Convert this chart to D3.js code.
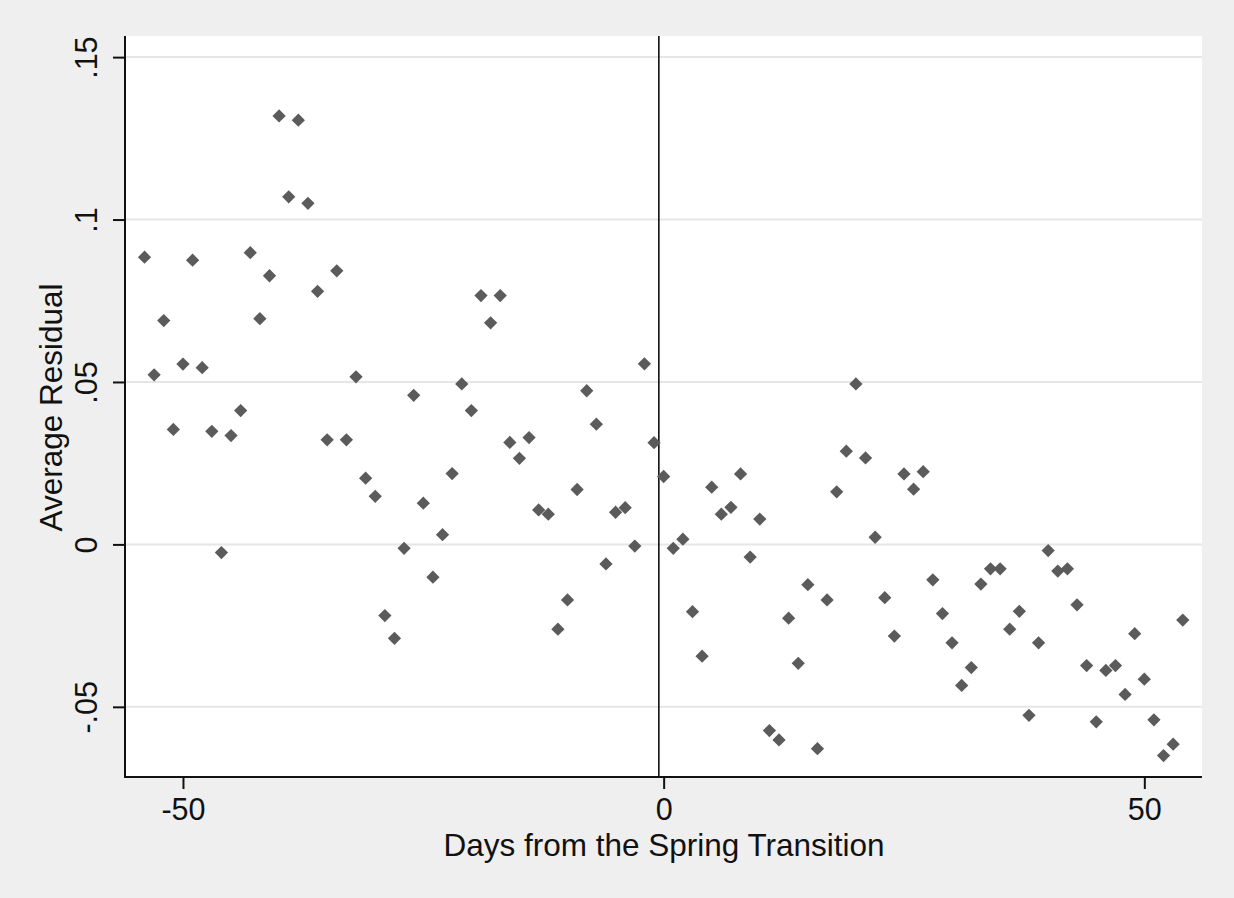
<!DOCTYPE html>
<html>
<head>
<meta charset="utf-8">
<script src="https://cdn.jsdelivr.net/npm/d3@7"></script>
<style>
  html, body { margin: 0; padding: 0; background: #efefef; }
  svg { display: block; }
  text { font-family: "Liberation Sans", Arial, sans-serif; fill: #111; }
</style>
</head>
<body>
<svg id="chart" width="1234" height="898"></svg>
<script>
const days = [-54,-53,-52,-51,-50,-49,-48,-47,-46,-45,-44,-43,-42,-41,-40,-39,-38,-37,-36,-35,
  -34,-33,-32,-31,-30,-29,-28,-27,-26,-25,-24,-23,-22,-21,-20,-19,-18,-17,-16,-15,
  -14,-13,-12,-11,-10,-9,-8,-7,-6,-5,-4,-3,-2,-1,0,1,2,3,4,5,
  6,7,8,9,10,11,12,13,14,15,16,17,18,19,20,21,22,23,24,25,
  26,27,28,29,30,31,32,33,34,35,36,37,38,39,40,41,42,43,44,45,
  46,47,48,49,50,51,52,53,54];
const residuals = [0.0884,0.0522,0.0689,0.0354,0.0555,0.0875,0.0544,0.0348,-0.0025,0.0335,
  0.0412,0.0898,0.0695,0.0827,0.1319,0.1070,0.1306,0.1050,0.0779,0.0322,
  0.0842,0.0322,0.0516,0.0204,0.0148,-0.0219,-0.0289,-0.0012,0.0459,0.0127,
  -0.0101,0.0030,0.0218,0.0494,0.0412,0.0766,0.0682,0.0766,0.0314,0.0265,
  0.0329,0.0106,0.0093,-0.0261,-0.0171,0.0169,0.0473,0.0370,-0.0060,0.0099,
  0.0113,-0.0005,0.0556,0.0313,0.0209,-0.0012,0.0016,-0.0207,-0.0344,0.0176,
  0.0093,0.0114,0.0217,-0.0039,0.0078,-0.0573,-0.0602,-0.0227,-0.0366,-0.0124,
  -0.0629,-0.0171,0.0162,0.0287,0.0494,0.0266,0.0022,-0.0164,-0.0282,0.0217,
  0.0170,0.0224,-0.0109,-0.0213,-0.0303,-0.0434,-0.0379,-0.0122,-0.0075,-0.0075,
  -0.0261,-0.0206,-0.0526,-0.0303,-0.0019,-0.0082,-0.0075,-0.0186,-0.0373,-0.0546,
  -0.0388,-0.0373,-0.0462,-0.0275,-0.0415,-0.0540,-0.0650,-0.0615,-0.0233];
const xTicks = [-50, 0, 50];
const xTickLabels = ["-50", "0", "50"];
const yTicks = [-0.05, 0, 0.05, 0.1, 0.15];
const yTickLabels = ["-.05", "0", ".05", ".1", ".15"];
const transitionLine = [-0.5];
const xTitle = "Days from the Spring Transition";
const yTitle = "Average Residual";

const svg = d3.select("#chart");
const pLeft = 125, pRight = 1202, pTop = 36, pBottom = 777;
const titleSize = "31.5px";
const tickSize = "30.5px";

const x = d3.scaleLinear().domain([-56.03, 56.0]).range([pLeft, pRight]);
const y = d3.scaleLinear().domain([-0.0716, 0.1565]).range([pBottom, pTop]);

svg.append("rect").attr("x", 0).attr("y", 0).attr("width", 1234).attr("height", 898).attr("fill", "#efefef");
svg.append("rect").attr("x", pLeft).attr("y", pTop).attr("width", pRight - pLeft).attr("height", pBottom - pTop).attr("fill", "#ffffff");

// gridlines
svg.append("g").selectAll("line").data(yTicks).join("line")
  .attr("x1", pLeft).attr("x2", pRight)
  .attr("y1", d => y(d)).attr("y2", d => y(d))
  .attr("stroke", "#e6e6e6").attr("stroke-width", 2);

// vertical line
svg.append("g").selectAll("line").data(transitionLine).join("line")
  .attr("x1", d => x(d)).attr("x2", d => x(d))
  .attr("y1", pTop).attr("y2", pBottom)
  .attr("stroke", "#111").attr("stroke-width", 1.6);

// points
const sym = d3.symbol().type(d3.symbolSquare).size(88);
svg.append("g").selectAll("path").data(days.map((d, i) => [d, residuals[i]])).join("path")
  .attr("d", sym)
  .attr("transform", d => `translate(${x(d[0])},${y(d[1])}) rotate(45)`)
  .attr("fill", "#5b5b5b");

// y axis
const yAxis = svg.append("g").attr("transform", `translate(${pLeft},0)`)
  .call(d3.axisLeft(y).tickValues(yTicks).tickSize(12).tickPadding(0)
    .tickFormat((d, i) => yTickLabels[i]));
yAxis.select(".domain").attr("stroke", "#111").attr("stroke-width", 2).attr("d", `M0,${pTop}V${pBottom + 1}`);
yAxis.selectAll(".tick line").attr("stroke", "#111").attr("stroke-width", 2);
yAxis.selectAll(".tick text")
  .attr("x", null).attr("dy", null)
  .attr("transform", "translate(-28,0) rotate(-90)")
  .attr("text-anchor", "middle")
  .style("font-size", tickSize).style("font-family", "'Liberation Sans', Arial, sans-serif").attr("fill", "#111");

// x axis
const xAxis = svg.append("g").attr("transform", `translate(0,${pBottom})`)
  .call(d3.axisBottom(x).tickValues(xTicks).tickSize(12).tickPadding(0)
    .tickFormat((d, i) => xTickLabels[i]));
xAxis.select(".domain").attr("stroke", "#111").attr("stroke-width", 2).attr("d", `M${pLeft - 1},0H${pRight}`);
xAxis.selectAll(".tick line").attr("stroke", "#111").attr("stroke-width", 2);
xAxis.selectAll(".tick text")
  .attr("y", 43).attr("dy", null)
  .attr("text-anchor", "middle")
  .style("font-size", tickSize).style("font-family", "'Liberation Sans', Arial, sans-serif").attr("fill", "#111");

// titles
svg.append("text").attr("x", (pLeft + pRight) / 2 + 0.5).attr("y", 856)
  .attr("text-anchor", "middle").style("font-size", titleSize).text(xTitle);
svg.append("text").attr("transform", `translate(62,407.5) rotate(-90)`)
  .attr("text-anchor", "middle").style("font-size", titleSize).text(yTitle);
</script>
</body>
</html>
